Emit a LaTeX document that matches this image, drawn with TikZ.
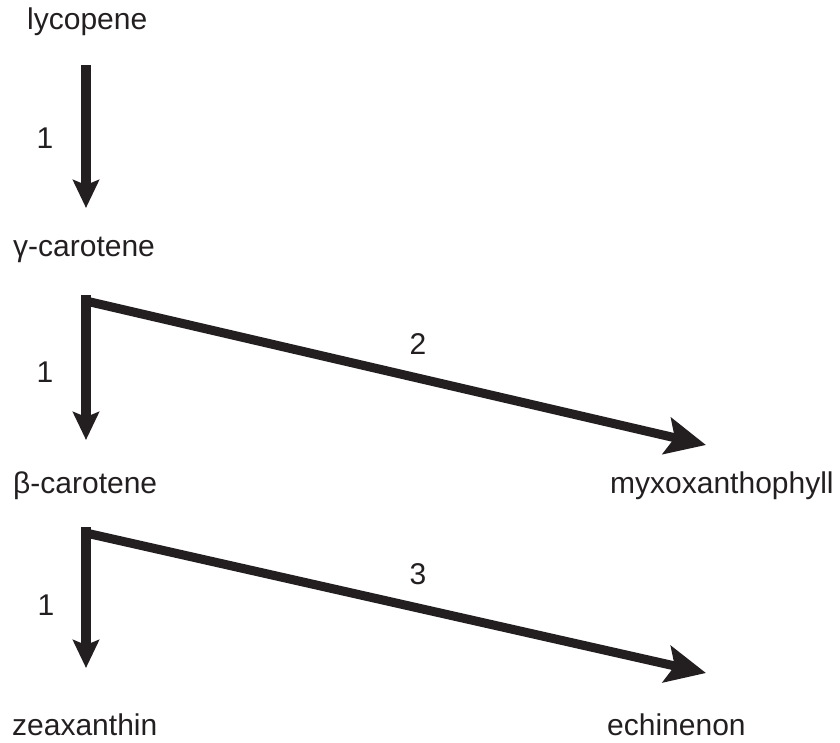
\documentclass[tikz,border=0pt]{standalone}
\usepackage{fontspec}
\setmainfont{Liberation Sans}
\usetikzlibrary{arrows.meta}
\definecolor{ink}{RGB}{35,31,32}
\begin{document}
\begin{tikzpicture}[x=1pt,y=-1pt,
  lbl/.style={inner sep=0pt,anchor=base west,text=ink,font=\fontsize{30}{36}\selectfont},
  num/.style={inner sep=0pt,text=ink,font=\fontsize{30}{36}\selectfont},
  vert/.style={draw=ink,line width=10pt,-{Stealth[length=28pt,width=26pt,inset=5pt]}},
  diag/.style={draw=ink,line width=9pt,-{Stealth[length=40pt,width=37pt,inset=8pt]}}]
\useasboundingbox (0,0) rectangle (840,743);
% labels
\node[lbl] (lyc) at (27,30) {lycopene};
\node[lbl] (gam) at (13,257) {γ-carotene};
\node[lbl] (bet) at (13,493) {β-carotene};
\node[lbl] (zea) at (12,735) {zeaxanthin};
\node[lbl] (myx) at (610,493) {myxoxanthophyll};
\node[lbl] (ech) at (607,735) {echinenon};
% step numbers
\node[num] (n1a) at (45,138) {1};
\node[num] (n1b) at (45,372) {1};
\node[num] (n1c) at (46,605) {1};
\node[num] (n2) at (418,344) {2};
\node[num] (n3) at (418,574) {3};
% connector points
\coordinate (a1s) at (86,65);
\coordinate (a1e) at (86,208);
\coordinate (a2s) at (86,295);
\coordinate (a2e) at (86,440);
\coordinate (a3s) at (86,527);
\coordinate (a3e) at (86,668);
\coordinate (d2s) at (86,301);
\coordinate (d2e) at (706,445);
\coordinate (d3s) at (86,533);
\coordinate (d3e) at (706,673);
% arrows
\draw[vert] (a1s) -- (a1e);
\draw[vert] (a2s) -- (a2e);
\draw[vert] (a3s) -- (a3e);
\draw[diag] (d2s) -- (d2e);
\draw[diag] (d3s) -- (d3e);
\end{tikzpicture}
\end{document}
